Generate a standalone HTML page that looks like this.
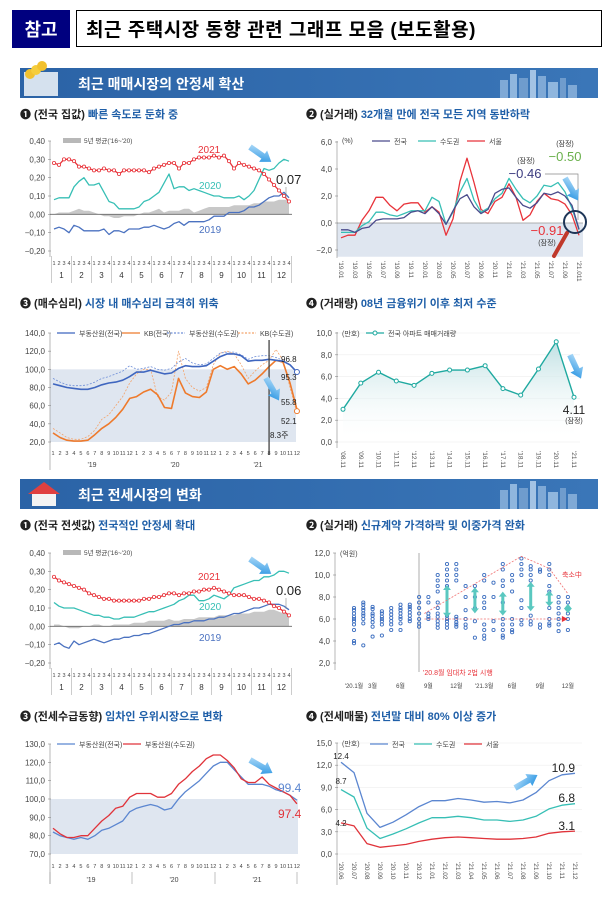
<!DOCTYPE html>
<html><head><meta charset="utf-8">
<style>
html,body{margin:0;padding:0;background:#fff;}
body{width:612px;height:902px;overflow:hidden;position:relative;font-family:"Liberation Sans","Noto Sans CJK KR",sans-serif;}
svg text{font-family:"Liberation Sans","Noto Sans CJK KR",sans-serif;}
</style></head>
<body>
<svg id="page" width="612" height="902" viewBox="0 0 612 902" xmlns="http://www.w3.org/2000/svg">
<defs>
<linearGradient id="bannerGrad" x1="0" x2="1"><stop offset="0" stop-color="#2b63a6"/><stop offset="1" stop-color="#3a76b8"/></linearGradient>
<linearGradient id="arrowGrad" x1="0" y1="0" x2="1" y2="1"><stop offset="0" stop-color="#bfe3fb"/><stop offset="1" stop-color="#1a8de0"/></linearGradient>
<linearGradient id="areaGrad" x1="0" y1="0" x2="0" y2="1"><stop offset="0" stop-color="#bfe0e3"/><stop offset="1" stop-color="#ffffff" stop-opacity="0.2"/></linearGradient>
</defs>
<!-- header -->
<rect x="12" y="10" width="58" height="38" fill="#00007f"/>
<text x="41" y="36" font-size="18" font-weight="bold" fill="#fff" text-anchor="middle">참고</text>
<rect x="76.5" y="10.5" width="525" height="36" fill="#fff" stroke="#000" stroke-width="1"/>
<text x="86" y="36" font-size="19" font-weight="bold" fill="#000" letter-spacing="0.5">최근  주택시장  동향  관련  그래프  모음 (보도활용)</text>

<!-- banner 1 -->
<g>
<rect x="20" y="68" width="578" height="30" fill="url(#bannerGrad)"/>
<rect x="24" y="72" width="34" height="24" fill="#e8eef6" transform="skew(-10)" opacity="0.9"/>
<circle cx="30" cy="74" r="5" fill="#f2c12e"/><circle cx="36" cy="70" r="5" fill="#f5cd3c"/><circle cx="42" cy="66" r="5" fill="#f2c12e"/>
<rect x="500" y="80" width="8" height="18" fill="#7fa9d6"/><rect x="510" y="74" width="7" height="24" fill="#8fb6de"/><rect x="519" y="78" width="9" height="20" fill="#6f9ccd"/><rect x="530" y="70" width="6" height="28" fill="#a3c3e4"/><rect x="538" y="76" width="8" height="22" fill="#7fa9d6"/><rect x="548" y="82" width="10" height="16" fill="#8fb6de"/><rect x="560" y="78" width="6" height="20" fill="#6f9ccd"/><rect x="568" y="85" width="9" height="13" fill="#7fa9d6"/>
<text x="78" y="89" font-size="14" font-weight="bold" fill="#fff">최근 매매시장의 안정세 확산</text>
</g>
<text x="20" y="118" font-size="11" font-weight="bold" fill="#222">❶ (전국 집값) <tspan fill="#1f5fa8">빠른 속도로 둔화 중</tspan></text>
<text x="306" y="118" font-size="11" font-weight="bold" fill="#222">❷ (실거래) <tspan fill="#1f5fa8">32개월 만에 전국 모든 지역 동반하락</tspan></text>
<text x="20" y="307" font-size="11" font-weight="bold" fill="#222">❸ (매수심리) <tspan fill="#1f5fa8">시장 내 매수심리 급격히 위축</tspan></text>
<text x="306" y="307" font-size="11" font-weight="bold" fill="#222">❹ (거래량) <tspan fill="#1f5fa8">08년 금융위기 이후 최저 수준</tspan></text>

<!-- banner 2 -->
<g>
<rect x="20" y="479" width="578" height="30" fill="url(#bannerGrad)"/>
<polygon points="28,494 44,482 60,494" fill="#e04040"/><rect x="32" y="494" width="24" height="12" fill="#f3f3f3"/>
<rect x="500" y="490" width="8" height="19" fill="#7fa9d6"/><rect x="510" y="484" width="7" height="25" fill="#8fb6de"/><rect x="519" y="488" width="9" height="21" fill="#6f9ccd"/><rect x="530" y="481" width="6" height="28" fill="#a3c3e4"/><rect x="538" y="486" width="8" height="23" fill="#7fa9d6"/><rect x="548" y="492" width="10" height="17" fill="#8fb6de"/><rect x="560" y="488" width="6" height="21" fill="#6f9ccd"/><rect x="568" y="494" width="9" height="15" fill="#7fa9d6"/>
<text x="78" y="500" font-size="14" font-weight="bold" fill="#fff">최근 전세시장의 변화</text>
</g>
<text x="20" y="529" font-size="11" font-weight="bold" fill="#222">❶ (전국 전셋값) <tspan fill="#1f5fa8">전국적인 안정세 확대</tspan></text>
<text x="306" y="529" font-size="11" font-weight="bold" fill="#222">❷ (실거래) <tspan fill="#1f5fa8">신규계약 가격하락 및 이중가격 완화</tspan></text>
<text x="20" y="720" font-size="11" font-weight="bold" fill="#222">❸ (전세수급동향) <tspan fill="#1f5fa8">임차인 우위시장으로 변화</tspan></text>
<text x="306" y="720" font-size="11" font-weight="bold" fill="#222">❹ (전세매물) <tspan fill="#1f5fa8">전년말 대비 80% 이상 증가</tspan></text>
<g id="charts"></g>
</svg>
<script>
// ---------- DATA ----------
const weekLabels = ['1','2','3','4'];
const monthLabels = ['1','2','3','4','5','6','7','8','9','10','11','12'];
const c1Ticks = [0.4,0.3,0.2,0.1,0,-0.1,-0.2];
const c1Y2021 = [0.28,0.27,0.30,0.30,0.29,0.26,0.26,0.25,0.24,0.24,0.25,0.24,0.24,0.22,0.24,0.24,0.24,0.24,0.24,0.23,0.25,0.26,0.27,0.28,0.28,0.25,0.28,0.28,0.30,0.31,0.31,0.31,0.32,0.31,0.32,0.29,0.25,0.28,0.27,0.26,0.25,0.24,0.22,0.19,0.16,0.13,0.10,0.07];
const c1Y2020 = [0.08,0.09,0.09,0.09,0.15,0.18,0.20,0.16,0.16,0.17,0.12,0.07,0.06,0.03,0.03,0.03,0.03,0.04,0.07,0.08,0.10,0.12,0.17,0.22,0.14,0.15,0.15,0.13,0.14,0.13,0.12,0.11,0.10,0.10,0.09,0.09,0.09,0.10,0.08,0.10,0.13,0.19,0.25,0.24,0.25,0.28,0.30,0.29];
const c1Y2019 = [-0.08,-0.07,-0.08,-0.10,-0.06,-0.07,-0.09,-0.09,-0.09,-0.09,-0.08,-0.11,-0.09,-0.09,-0.10,-0.08,-0.08,-0.08,-0.07,-0.07,-0.06,-0.07,-0.08,-0.07,-0.05,-0.04,-0.06,-0.04,-0.04,-0.04,-0.04,-0.03,-0.01,-0.01,-0.01,0.01,0.01,0.01,0.02,0.04,0.04,0.05,0.07,0.09,0.10,0.10,0.12,0.09];
const c1Avg = [0.00,0.01,0.01,0.01,0.02,0.03,0.02,0.02,0.01,0.00,-0.01,-0.01,-0.02,-0.02,-0.01,-0.01,-0.01,0.00,0.01,0.01,0.02,0.03,0.01,0.02,0.02,0.02,0.03,0.03,0.01,0.02,0.03,0.04,0.04,0.04,0.04,0.04,0.05,0.05,0.05,0.05,0.06,0.06,0.07,0.07,0.07,0.08,0.08,0.08];

const c2Ticks = [6,4,2,0,-2];
const c2Labels = ["'19.01","'19.03","'19.05","'19.07","'19.09","'19.11","'20.01","'20.03","'20.05","'20.07","'20.09","'20.11","'21.01","'21.03","'21.05","'21.07","'21.09","'21.011"];
const c2National = [-0.5,-0.5,-0.7,-0.4,-0.3,0.2,0.3,0.3,0.3,0.4,0.8,0.9,0.7,1.2,0.7,-0.1,0.9,1.8,2.1,1.2,0.7,1.0,2.2,2.5,2.6,1.9,1.3,1.1,1.5,2.2,2.1,2.3,2.0,1.3,-0.46];
const c2Capital = [-0.7,-0.7,-0.7,-0.2,0.1,0.8,0.8,0.6,0.5,0.7,0.9,0.9,0.9,1.9,1.6,-0.1,0.8,2.3,3.3,1.7,0.8,1.1,1.8,2.2,3.3,2.5,1.8,1.5,2.0,2.8,2.7,3.0,2.3,1.1,-0.50];
const c2Seoul = [-1.1,-0.9,-0.9,0.2,0.9,1.9,1.9,1.3,0.9,1.4,1.5,1.5,0.8,1.2,0.8,-0.9,0.3,3.1,4.8,3.0,1.0,0.7,1.6,1.9,2.9,1.9,0.2,0.6,1.6,2.2,1.8,1.7,1.4,0.6,-0.91];

const c3Ticks = [140,120,100,80,60,40,20];
const c3RebNational = [84,82,80,79,78,78,80,83,85,86,88,92,97,97,99,97,95,96,101,104,103,103,104,109,114,117,117,115,109,110,110,111,110,109,105,97];
const c3RebCapital = [90,86,83,82,82,83,86,90,92,95,98,104,100,101,103,100,99,101,108,112,107,105,106,112,118,119,119,116,111,114,115,115,113,110,105,96];
const c3KbNational = [30,25,22,21,21,22,28,35,40,47,56,68,70,75,78,72,58,57,90,74,70,69,75,100,104,100,103,95,84,88,95,103,110,108,85,56];
const c3KbCapital = [35,30,25,23,23,26,33,45,50,60,70,85,95,100,100,70,66,75,120,90,80,76,80,105,118,120,117,105,90,98,105,110,122,110,80,52];

const c4Ticks = [10,8,6,4,2,0];
const c4Labels = ["'08.11","'09.11","'10.11","'11.11","'12.11","'13.11","'14.11","'15.11","'16.11","'17.11","'18.11","'19.11","'20.11","'21.11"];
const c4Volume = [3.0,5.4,6.4,5.6,5.2,6.3,6.6,6.6,7.0,4.9,4.3,6.7,9.2,4.11];

const c5Y2021 = [0.27,0.25,0.24,0.23,0.22,0.21,0.20,0.18,0.17,0.16,0.15,0.15,0.14,0.14,0.14,0.14,0.14,0.14,0.15,0.15,0.16,0.16,0.17,0.18,0.18,0.17,0.18,0.18,0.19,0.19,0.20,0.20,0.21,0.20,0.19,0.18,0.17,0.17,0.17,0.16,0.15,0.15,0.14,0.13,0.11,0.10,0.08,0.06];
const c5Y2020 = [0.13,0.11,0.10,0.10,0.10,0.09,0.08,0.07,0.06,0.06,0.05,0.05,0.04,0.04,0.05,0.05,0.05,0.06,0.07,0.08,0.08,0.09,0.10,0.11,0.12,0.14,0.15,0.17,0.17,0.14,0.14,0.15,0.17,0.16,0.15,0.17,0.21,0.22,0.23,0.24,0.25,0.25,0.27,0.27,0.28,0.30,0.30,0.29];
const c5Y2019 = [-0.10,-0.09,-0.11,-0.12,-0.08,-0.10,-0.09,-0.08,-0.07,-0.08,-0.09,-0.08,-0.07,-0.07,-0.06,-0.06,-0.05,-0.05,-0.04,-0.04,-0.03,-0.02,-0.01,0.00,0.01,0.01,0.02,0.02,0.03,0.03,0.03,0.04,0.04,0.05,0.05,0.06,0.07,0.07,0.08,0.09,0.10,0.10,0.11,0.12,0.12,0.12,0.11,0.09];
const c5Avg = [0.01,0.01,0.00,-0.01,-0.01,-0.01,0.00,0.00,0.01,0.01,0.00,0.00,0.01,0.01,0.01,0.01,0.02,0.02,0.02,0.03,0.03,0.03,0.03,0.04,0.03,0.03,0.04,0.04,0.04,0.05,0.05,0.05,0.05,0.06,0.06,0.06,0.06,0.07,0.07,0.07,0.08,0.08,0.08,0.09,0.09,0.08,0.07,0.06];

const c6Ticks = [12,10,8,6,4,2];
const c6Deals = [
 [7.0,6.8,6.5,6.2,6.0,5.8,5.5,5.0,4.0,3.8],[7.5,7.3,7.0,6.8,6.5,6.3,6.0,5.6,3.6],[7.1,6.9,6.5,6.3,6.0,5.7,5.3,4.4],
 [6.7,6.5,6.2,6.0,5.8,5.5,4.5],[7.0,6.7,6.4,6.1,5.8,5.5,5.0],[7.3,7.0,6.8,6.5,6.2,6.0,5.6,5.0],[7.3,7.1,6.9,6.6,6.3,6.0,5.8],
 [8.0,7.5,7.0,6.5,6.0,5.6,5.3],[8.0,7.5,6.5,6.2,6.0],[10.0,9.5,9.0,8.5,7.5,7.0,6.5,6.2,5.8,5.5,5.2],
 [11.0,10.5,10.0,9.5,9.0,6.3,6.0,5.8,5.5,5.2],[11.0,10.5,10.0,9.5,6.2,6.0,5.7,5.5,5.3],[9.0,8.0,6.8,6.0,5.5,5.2],
 [9.0,8.0,7.0,5.8,4.3],[10.0,9.5,8.0,7.5,7.0,5.5,5.0,4.5,4.2],[9.3,8.0,5.8,5.0],[11.0,10.5,9.5,9.0,7.5,6.0,5.5,5.0,4.5,4.3],
 [10.0,9.5,8.5,6.0,5.5,5.0,4.8],[11.5,11.0,10.5,10.0,7.7,7.0,5.9,5.5],[10.8,10.5,10.0,9.5,6.3,5.8,5.5],[10.5,10.3,5.5,5.2],
 [11.0,10.5,10.0,9.0,8.5,7.0,6.0,5.6,5.4],[8.0,7.5,7.0,6.5,6.0,5.5,4.9],[8.0,7.5,7.0,6.5,6.0,5.0]];
const c6GapMonths = [10,13,16,19,21,23];
const c6GapLow = [6.2,6.6,6.4,6.8,7.2,6.6];
const c6GapHigh = [9.0,8.8,8.4,9.3,8.5,7.3];
const c6MonthLabels = ["'20.1월","3월","6월","9월","12월","'21.3월","6월","9월","12월"];
const c6MonthIdx = [0,2,5,8,11,14,17,20,23];

const c7Ticks = [130,120,110,100,90,80,70];
const c7National = [82,80,79,78,79,78,80,83,84,86,88,93,95,96,97,96,94,95,100,104,107,110,114,118,120,120,116,112,108,108,108,107,105,104,102,99.4];
const c7Capital = [84,81,79,79,80,80,84,88,91,95,96,101,103,103,103,101,101,103,108,111,115,118,122,124,124,121,117,111,109,109,112,108,106,104,102,97.4];

const c8Ticks = [15,12,9,6,3,0];
const c8Labels = ["'20.06","'20.07","'20.08","'20.09","'20.10","'20.11","'20.12","'21.01","'21.02","'21.03","'21.04","'21.05","'21.06","'21.07","'21.08","'21.09","'21.10","'21.11","'21.12"];
const c8National = [12.4,11.0,5.5,3.6,4.3,5.3,6.4,7.2,7.2,7.5,7.3,7.0,7.1,6.9,7.3,8.3,9.9,10.7,10.9];
const c8Capital = [8.7,7.7,3.5,2.1,2.7,3.4,4.2,4.9,4.9,5.1,4.9,4.6,4.6,4.4,4.6,5.1,6.1,6.6,6.8];
const c8Seoul = [4.2,3.8,1.4,0.9,1.1,1.3,1.7,2.0,2.2,2.3,2.2,2.1,2.0,2.0,2.1,2.3,2.8,3.0,3.1];

// ---------- HELPERS ----------
const NS='http://www.w3.org/2000/svg';
const root=document.getElementById('charts');
function el(tag,attrs,parent){const e=document.createElementNS(NS,tag);for(const k in attrs)e.setAttribute(k,attrs[k]);(parent||root).appendChild(e);return e;}
function lin(d0,d1,r0,r1){return v=>r0+(v-d0)/(d1-d0)*(r1-r0);}
function pd(vals,sx,sy){return vals.map((v,i)=>(i?'L':'M')+sx(i).toFixed(1)+','+sy(v).toFixed(1)).join('');}
function txt(s,x,y,size,fill,anchor,parent,weight){const t=el('text',{x:x,y:y,'font-size':size,fill:fill||'#444','text-anchor':anchor||'start','font-weight':weight||'normal'},parent);t.textContent=s;return t;}
function line(vals,sx,sy,color,w,g,dash){const p=el('path',{d:pd(vals,sx,sy),fill:'none',stroke:color,'stroke-width':w||1.3,'stroke-linejoin':'round'},g);if(dash)p.setAttribute('stroke-dasharray',dash);return p;}
function yTicks(ticks,sy,x,fmt,g){ticks.forEach(v=>{const t=txt(fmt(v),x-5,sy(v)+3,8,'#444','end',g);el('line',{x1:x-2,x2:x+1,y1:sy(v),y2:sy(v),stroke:'#888','stroke-width':0.6},g);});}
function blueArrow(x,y,ang,g){const a=el('polygon',{points:'0,-3 16,-3 16,-7 26,0 16,7 16,3 0,3',fill:'url(#arrowGrad)',transform:`translate(${x},${y}) rotate(${ang})`},g);}
function legendLine(x,y,color,label,g,dash,marker){el('line',{x1:x,x2:x+18,y1:y,y2:y,stroke:color,'stroke-width':1.3,'stroke-dasharray':dash||'none'},g);if(marker)el('circle',{cx:x+9,cy:y,r:2,fill:'#fff',stroke:color},g);const t=txt(label,x+22,y+3,7,'#444','start',g);}
const fmt2=v=>(v<0?'−':'')+Math.abs(v).toFixed(2).replace('.',',');
const fmt1=v=>(v<0?'−':'')+Math.abs(v).toFixed(1).replace('.',',');

// weekly chart (1 & 5)
function weeklyChart(name,top,series,avg,labels){
  const g=el('g',{});
  
  
  const sy=lin(-0.2,0.4,top+110,top);
  const sx=i=>54+i*5.0;
  el('line',{x1:50,x2:50,y1:top,y2:top+116,stroke:'#888','stroke-width':0.6},g);
  yTicks(c1Ticks,sy,50,fmt2,g);
  // avg area
  const ap='M'+sx(0)+','+sy(0)+pd(avg,sx,sy).replace('M','L')+'L'+sx(avg.length-1)+','+sy(0)+'Z';
  const area=el('path',{d:ap,fill:'#c8c8c8'},g);
  
  
  el('line',{x1:50,x2:292,y1:sy(0),y2:sy(0),stroke:'#666','stroke-width':0.8},g);
  const cols=['#4b72c0','#37bfb5','#e8333a'];
  const names=['series-2019','series-2020','series-2021'];
  series.forEach((s,k)=>{const p=line(s,sx,sy,cols[k],1.3,g);});
  series[2].forEach((v,i)=>{const c=el('circle',{cx:sx(i),cy:sy(v),r:1.6,fill:'#fff',stroke:'#e8333a','stroke-width':0.8},g);});
  // legend
  el('rect',{x:63,y:top-3,width:18,height:5,fill:'#b8b8b8'},g);
  txt("5년 평균('16~'20)",84,top+2,6.5,'#444','start',g);
  // x axis
  for(let m=0;m<12;m++){
    el('line',{x1:sx(m*4)-2.5,x2:sx(m*4)-2.5,y1:top+115,y2:top+142,stroke:'#999','stroke-width':0.5},g);
    weekLabels.forEach((w,k)=>txt(w,sx(m*4+k),top+124,5.5,'#444','middle',g));
    const ml=txt(monthLabels[m],sx(m*4+1.5),top+137,8,'#333','middle',g);
    
  }
  el('line',{x1:sx(48)-2.5,x2:sx(48)-2.5,y1:top+115,y2:top+142,stroke:'#999','stroke-width':0.5},g);
  txt('2021',labels[0][0],labels[0][1],10,'#e8333a','start',g);
  txt('2020',labels[1][0],labels[1][1],10,'#37bfb5','start',g);
  txt('2019',labels[2][0],labels[2][1],10,'#4b72c0','start',g);
  const last=txt(labels[3][2],labels[3][0],labels[3][1],13,'#222','start',g);
  
  el('line',{x1:labels[3][0]+10,x2:labels[3][0]+10,y1:labels[3][1]+3,y2:labels[3][1]+14,stroke:'#888','stroke-width':0.6},g);
  blueArrow(250,top+6,35,g);
}
weeklyChart('chart1-sales-price-weekly',141,[c1Y2019,c1Y2020,c1Y2021],c1Avg,[[198,153],[199,189],[199,233],[276,184,'0.07']]);
weeklyChart('chart5-jeonse-price-weekly',553,[c5Y2019,c5Y2020,c5Y2021],c5Avg,[[198,580],[199,610],[199,641],[276,595,'0.06']]);

// chart 2
(function(){
  const g=el('g',{});
  
  
  const sy=lin(0,6,223,142), sx=i=>341+i*7.0;
  el('rect',{x:337,y:sy(0),width:246,height:sy(-2.5)-sy(0),fill:'#dfe6f0'},g);
  el('line',{x1:337,x2:583,y1:sy(0),y2:sy(0),stroke:'#999','stroke-width':0.7},g);
  el('line',{x1:337,x2:337,y1:141,y2:258,stroke:'#888','stroke-width':0.6},g);
  yTicks(c2Ticks,sy,337,fmt1,g);
  txt('(%)',342,143,7,'#444','start',g);
  legendLine(372,141,'#4a4a8c','전국',g);
  legendLine(418,141,'#37bfb5','수도권',g);
  legendLine(467,141,'#e8333a','서울',g);
  [[c2Seoul,'#e8333a','seoul-line'],[c2Capital,'#37bfb5','capital-line'],[c2National,'#4a4a8c','national-line']].forEach(s=>{const p=line(s[0],sx,sy,s[1],1.3,g);});
  c2Labels.forEach((l,k)=>{const t=el('text',{x:0,y:0,'font-size':6.5,fill:'#555',transform:`translate(${sx(k*2)-2},261) rotate(90)`},g);t.textContent=l;});
  txt('(잠정)',526,163,7,'#333','middle',g);
  txt('−0.46',525,178,13,'#3c3c80','middle',g);
  el('polyline',{points:'545,174 578,174 578,220',fill:'none',stroke:'#888','stroke-width':0.7},g);
  txt('(잠정)',565,146,7,'#333','middle',g);
  txt('−0.50',565,161,13,'#6ab04c','middle',g);
  txt('−0.91',547,235,13,'#e8333a','middle',g);
  txt('(잠정)',547,245,7,'#333','middle',g);
  blueArrow(565,178,60,g);
  el('line',{x1:567,y1:233,x2:554,y2:256,stroke:'#c0392b','stroke-width':4,'stroke-linecap':'round'},g);
  const mg=el('circle',{cx:575,cy:222,r:11,fill:'none',stroke:'#1d3557','stroke-width':2},g);
  
})();

// chart 3
(function(){
  const g=el('g',{});
  
  
  const sy=lin(20,140,442,333), sx=i=>53+i*6.97;
  el('rect',{x:50,y:sy(100),width:246,height:sy(20)-sy(100),fill:'#dfe6f0'},g);
  el('line',{x1:50,x2:50,y1:333,y2:470,stroke:'#888','stroke-width':0.6},g);
  yTicks(c3Ticks,sy,50,fmt1,g);
  const s=[[c3KbCapital,'#f3a36b','0.8','2,1.5','kb-capital-line'],[c3RebCapital,'#6f8fd8','0.8','2,1.5','reb-capital-line'],[c3KbNational,'#ee7a2c','1.6',null,'kb-national-line'],[c3RebNational,'#3f66bf','1.6',null,'reb-national-line']];
  s.forEach(a=>{const p=line(a[0],sx,sy,a[1],a[2],g,a[3]);});
  legendLine(57,333,'#3f66bf','부동산원(전국)',g);
  legendLine(122,333,'#ee7a2c','KB(전국)',g);
  legendLine(167,333,'#6f8fd8','부동산원(수도권)',g,'2,1.5');
  legendLine(238,333,'#f3a36b','KB(수도권)',g,'2,1.5');
  el('line',{x1:sx(31),x2:sx(31),y1:340,y2:455,stroke:'#444','stroke-width':1.3},g);
  txt('8.3주',270,438,8,'#222','start',g);
  txt('96.8',281,362,8,'#222','start',g);
  txt('95.3',281,380,8,'#222','start',g);
  txt('55.8',281,405,8,'#222','start',g);
  txt('52.1',281,424,8,'#222','start',g);
  el('circle',{cx:sx(35),cy:sy(97),r:2.5,fill:'#fff',stroke:'#3f66bf'},g);
  el('circle',{cx:sx(35),cy:sy(54),r:2.5,fill:'#fff',stroke:'#ee7a2c'},g);
  blueArrow(266,378,60,g);
  for(let i=0;i<36;i++){txt(monthLabels[i%12],sx(i),455,5.5,'#444','middle',g);}
  txt("'19",92,467,7,'#444','middle',g);txt("'20",175,467,7,'#444','middle',g);txt("'21",258,467,7,'#444','middle',g);
})();

// chart 4
(function(){
  const g=el('g',{});
  
  
  const sy=lin(0,10,442,333), sx=i=>343+i*17.77;
  c4Ticks.forEach(v=>el('line',{x1:337,x2:580,y1:sy(v),y2:sy(v),stroke:'#eee','stroke-width':0.6},g));
  el('line',{x1:337,x2:337,y1:332,y2:448,stroke:'#888','stroke-width':0.6},g);
  yTicks(c4Ticks,sy,337,fmt1,g);
  const ap=pd(c4Volume,sx,sy)+'L'+sx(c4Volume.length-1)+','+sy(0.5)+'L'+sx(0)+','+sy(0.5)+'Z';
  el('path',{d:ap,fill:'url(#areaGrad)'},g);
  const p=line(c4Volume,sx,sy,'#1fa9a0',1.4,g);
  
  c4Volume.forEach((v,i)=>{const c=el('circle',{cx:sx(i),cy:sy(v),r:2,fill:'#fff',stroke:'#1fa9a0','stroke-width':1},g);});
  txt('(만호)',342,336,7,'#444','start',g);
  legendLine(366,333,'#1fa9a0','전국 아파트 매매거래량',g,null,true);
  c4Labels.forEach((l,k)=>{const t=el('text',{x:0,y:0,'font-size':6.5,fill:'#555',transform:`translate(${sx(k)-2},451) rotate(90)`},g);t.textContent=l;});
  txt('4.11',574,414,12,'#222','middle',g);
  txt('(잠정)',574,423,7,'#333','middle',g);
  blueArrow(570,355,65,g);
})();

// chart 6
(function(){
  const g=el('g',{});
  
  
  const sy=lin(2,12,663,553), sx=i=>354+i*9.3;
  el('line',{x1:335,x2:335,y1:553,y2:670,stroke:'#888','stroke-width':0.6},g);
  yTicks(c6Ticks,sy,335,fmt1,g);
  txt('(억원)',340,556,7,'#444','start',g);
  el('line',{x1:419,x2:419,y1:553,y2:672,stroke:'#999','stroke-width':0.8},g);
  c6Deals.forEach((arr,i)=>arr.forEach(v=>{const c=el('circle',{cx:sx(i),cy:sy(v),r:1.6,fill:'none',stroke:'#3d6fc0','stroke-width':0.9},g);}));
  c6GapMonths.forEach((m,k)=>{const x=sx(m),y1=sy(c6GapHigh[k]),y2=sy(c6GapLow[k]);
    const a=el('line',{x1:x,x2:x,y1:y1+3,y2:y2-3,stroke:'#5ac8c0','stroke-width':3},g);
    el('polygon',{points:`${x-4},${y1+4} ${x},${y1-1} ${x+4},${y1+4}`,fill:'#5ac8c0'},g);
    el('polygon',{points:`${x-4},${y2-4} ${x},${y2+1} ${x+4},${y2-4}`,fill:'#5ac8c0'},g);});
  el('polyline',{points:`${sx(8)-4},${sy(6.5)} ${sx(18)},${sy(11.7)} ${sx(21)},${sy(10.6)} ${sx(23)},${sy(8.3)}`,fill:'none',stroke:'#f07070','stroke-width':0.8,'stroke-dasharray':'2,1.5'},g);
  el('line',{x1:sx(8)-4,x2:sx(23)-4,y1:sy(6),y2:sy(6),stroke:'#f07070','stroke-width':0.8,'stroke-dasharray':'2,1.5'},g);
  el('polygon',{points:`${sx(23)-6},${sy(6)-3} ${sx(23)},${sy(6)} ${sx(23)-6},${sy(6)+3}`,fill:'#e8333a'},g);
  txt('축소中',562,577,7,'#e8333a','start',g);
  txt("'20.8월 임대차 2법 시행",423,675,7,'#e8333a','start',g);
  c6MonthLabels.forEach((l,k)=>{const t=txt(l,sx(c6MonthIdx[k]),688,6,'#444','middle',g);});
})();

// chart 7
(function(){
  const g=el('g',{});
  
  
  const sy=lin(70,130,854,744), sx=i=>53+i*6.97;
  el('rect',{x:50,y:sy(100),width:248,height:sy(70)-sy(100),fill:'#dfe6f0'},g);
  el('line',{x1:50,x2:50,y1:744,y2:884,stroke:'#888','stroke-width':0.6},g);
  yTicks(c7Ticks,sy,50,fmt1,g);
  const p1=line(c7National,sx,sy,'#5b86d0',1.3,g);
  const p2=line(c7Capital,sx,sy,'#e0333a',1.3,g);
  legendLine(57,744,'#5b86d0','부동산원(전국)',g);
  legendLine(123,744,'#e0333a','부동산원(수도권)',g);
  for(let i=0;i<36;i++){txt(monthLabels[i%12],sx(i),868,5.5,'#444','middle',g);}
  [50,132,215,297].forEach(x=>el('line',{x1:x,x2:x,y1:872,y2:884,stroke:'#999','stroke-width':0.6},g));
  txt("'19",91,882,7,'#444','middle',g);txt("'20",174,882,7,'#444','middle',g);txt("'21",257,882,7,'#444','middle',g);
  txt('99.4',278,792,12,'#5b86d0','start',g);
  txt('97.4',278,818,12,'#e0333a','start',g);
  blueArrow(250,760,30,g);
})();

// chart 8
(function(){
  const g=el('g',{});
  
  
  const sy=lin(0,15,854,743), sx=i=>341+i*13.0;
  c8Ticks.forEach(v=>el('line',{x1:337,x2:582,y1:sy(v),y2:sy(v),stroke:'#eee','stroke-width':0.6},g));
  el('line',{x1:337,x2:337,y1:743,y2:885,stroke:'#888','stroke-width':0.6},g);
  yTicks(c8Ticks,sy,337,fmt1,g);
  [[c8National,'#5b86d0','national-line'],[c8Capital,'#37bfb5','capital-line'],[c8Seoul,'#e0333a','seoul-line']].forEach(s=>{const p=line(s[0],sx,sy,s[1],1.3,g);});
  txt('(만호)',342,746,7,'#444','start',g);
  legendLine(370,744,'#5b86d0','전국',g);
  legendLine(414,744,'#37bfb5','수도권',g);
  legendLine(464,744,'#e0333a','서울',g);
  txt('12.4',341,759,8,'#222','middle',g);
  txt('8.7',341,784,8,'#222','middle',g);
  txt('4.2',341,826,8,'#222','middle',g);
  txt('10.9',575,772,12,'#222','end',g);
  txt('6.8',575,802,12,'#222','end',g);
  txt('3.1',575,830,12,'#222','end',g);
  blueArrow(515,788,-30,g);
  c8Labels.forEach((l,k)=>{const t=el('text',{x:0,y:0,'font-size':6.5,fill:'#555',transform:`translate(${sx(k)-2},862) rotate(90)`},g);t.textContent=l;});
})();
</script>
</body></html>
